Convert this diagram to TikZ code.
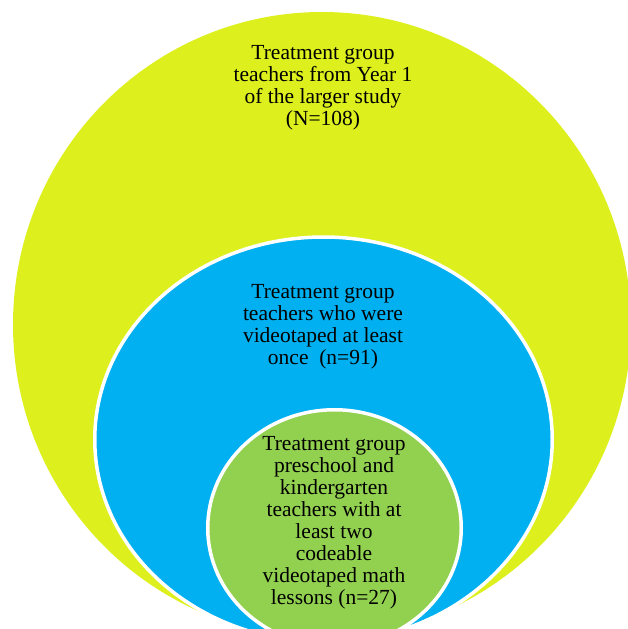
\documentclass[tikz,border=0pt]{standalone}
\usepackage{fontspec}
\setmainfont{Liberation Serif}
\usepackage{tikz}
\usetikzlibrary{shapes.geometric}

\definecolor{limeYellow}{RGB}{221,240,30}
\definecolor{skyBlue}{RGB}{0,176,240}
\definecolor{leafGreen}{RGB}{146,208,80}

\begin{document}
\begin{tikzpicture}[
    x=1pt, y=-1pt,
    disc/.style={ellipse, draw=white, line width=3.5pt, inner sep=0pt, fill=#1},
    disc/.default=white,
    caption/.style={align=center, font=\fontsize{21.5}{22}\selectfont, text=black},
]

\useasboundingbox (0,0) rectangle (628,629);
\clip (0,0) rectangle (628,629);

% Outer group: all treatment teachers
\node[disc=limeYellow, draw=none, minimum width=618, minimum height=625] (year1) at (322,324.5) {};
\node[caption] (year1text) at (323,88) {Treatment group\\teachers from Year 1\\of the larger study\\(N=108)};

% Middle group: videotaped at least once
\node[disc=skyBlue, minimum width=457.5, minimum height=405] (taped) at (323.5,439.5) {};
\node[caption] (tapedtext) at (323,327) {Treatment group\\teachers who were\\videotaped at least\\once\ \ (n=91)};

% Inner group: codeable math lessons
\node[disc=leafGreen, minimum width=253.5, minimum height=236.5] (coded) at (334.5,528) {};
\node[caption] (codedtext) at (334,523) {Treatment group\\preschool and\\kindergarten\\teachers with at\\least two\\codeable\\videotaped math\\lessons (n=27)};

\end{tikzpicture}
\end{document}
